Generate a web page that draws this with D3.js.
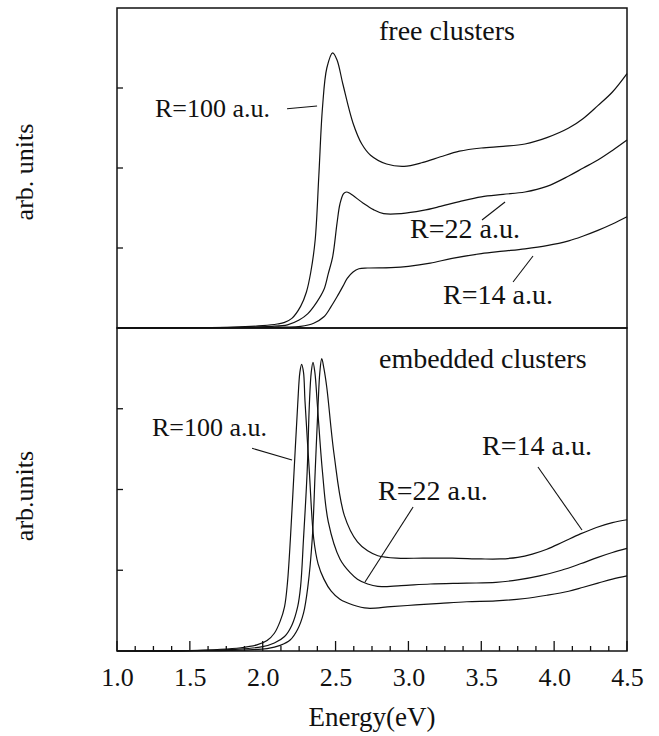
<!DOCTYPE html>
<html lang="en">
<head>
  <meta charset="UTF-8">
  <title>Absorption spectra: free and embedded clusters</title>
  <script src="https://d3js.org/d3.v7.min.js"></script>
  <style>
    body {
      margin: 0;
      background: #fff;
    }
    svg text {
      font-family: 'Liberation Serif', 'Times New Roman', serif;
      fill: #111;
    }
  </style>
</head>
<body>
  <script>
    // Energy axis
    const xTicks = [1.0, 1.5, 2.0, 2.5, 3.0, 3.5, 4.0, 4.5];
    const yTicks = [1, 2, 3];

    // free clusters, [energy eV, arb. units]
    const freeR100 = [[1.0, 0], [1.5, 0.003], [1.8, 0.01], [2.0, 0.03], [2.1, 0.05], [2.15, 0.07], [2.2, 0.12],
      [2.26, 0.27], [2.3, 0.45], [2.33, 0.7], [2.36, 1.1], [2.385, 1.9], [2.41, 2.75], [2.44, 3.25], [2.48, 3.44],
      [2.51, 3.35], [2.55, 3.05], [2.62, 2.56], [2.68, 2.3], [2.74, 2.16], [2.85, 2.05], [2.97, 2.02], [3.1, 2.07],
      [3.22, 2.14], [3.35, 2.21], [3.5, 2.25], [3.65, 2.27], [3.8, 2.3], [3.95, 2.38], [4.1, 2.5], [4.2, 2.62],
      [4.3, 2.78], [4.4, 2.95], [4.5, 3.18]];
    const freeR22 = [[1.0, 0], [1.6, 0.003], [1.9, 0.01], [2.05, 0.02], [2.17, 0.04], [2.25, 0.1], [2.31, 0.18],
      [2.37, 0.32], [2.42, 0.48], [2.45, 0.68], [2.48, 0.89], [2.51, 1.31], [2.53, 1.55], [2.555, 1.68], [2.575, 1.7],
      [2.6, 1.68], [2.69, 1.56], [2.76, 1.48], [2.83, 1.43], [2.95, 1.43], [3.1, 1.47], [3.22, 1.52], [3.35, 1.58],
      [3.5, 1.64], [3.65, 1.67], [3.8, 1.7], [3.95, 1.77], [4.1, 1.9], [4.2, 2.0], [4.3, 2.1], [4.4, 2.22], [4.5, 2.35]];
    const freeR14 = [[1.0, 0], [1.7, 0.003], [2.0, 0.008], [2.15, 0.01], [2.26, 0.02], [2.35, 0.06], [2.42, 0.14],
      [2.47, 0.27], [2.51, 0.39], [2.55, 0.52], [2.58, 0.62], [2.62, 0.7], [2.66, 0.74], [2.72, 0.75], [2.88, 0.755],
      [3.0, 0.77], [3.15, 0.81], [3.3, 0.87], [3.5, 0.93], [3.65, 0.96], [3.8, 0.99], [3.95, 1.03], [4.1, 1.09],
      [4.2, 1.15], [4.3, 1.22], [4.4, 1.3], [4.5, 1.39]];

    // embedded clusters
    const embR100 = [[1.0, 0], [1.5, 0.005], [1.85, 0.04], [1.96, 0.075], [2.03, 0.13], [2.08, 0.22], [2.12, 0.37],
      [2.15, 0.55], [2.17, 0.85], [2.19, 1.39], [2.215, 2.22], [2.24, 3.05], [2.255, 3.45], [2.267, 3.55], [2.28, 3.45],
      [2.29, 3.1], [2.32, 2.22], [2.35, 1.39], [2.38, 1.08], [2.42, 0.89], [2.47, 0.74], [2.53, 0.64], [2.62, 0.57],
      [2.72, 0.53], [2.88, 0.55], [3.05, 0.57], [3.22, 0.59], [3.4, 0.61], [3.6, 0.62], [3.8, 0.65], [3.95, 0.69],
      [4.1, 0.74], [4.2, 0.79], [4.3, 0.84], [4.4, 0.89], [4.5, 0.93]];
    const embR22 = [[1.0, 0], [1.5, 0.004], [1.8, 0.02], [1.99, 0.05], [2.08, 0.1], [2.15, 0.18], [2.2, 0.32],
      [2.24, 0.55], [2.26, 0.8], [2.28, 1.39], [2.305, 2.22], [2.32, 3.05], [2.333, 3.45], [2.345, 3.575], [2.358, 3.45],
      [2.375, 3.05], [2.41, 2.22], [2.45, 1.6], [2.53, 1.14], [2.6, 0.97], [2.65, 0.89], [2.72, 0.83], [2.79, 0.8],
      [2.95, 0.81], [3.15, 0.83], [3.4, 0.84], [3.6, 0.85], [3.75, 0.88], [3.9, 0.93], [4.05, 1.0], [4.18, 1.08],
      [4.3, 1.16], [4.4, 1.22], [4.5, 1.27]];
    const embR14 = [[1.0, 0], [1.6, 0.004], [1.9, 0.015], [2.03, 0.03], [2.12, 0.07], [2.19, 0.14], [2.24, 0.27],
      [2.28, 0.47], [2.31, 0.8], [2.34, 1.39], [2.36, 2.22], [2.38, 3.05], [2.392, 3.45], [2.405, 3.62], [2.42, 3.5],
      [2.44, 3.26], [2.49, 2.43], [2.56, 1.68], [2.65, 1.35], [2.72, 1.24], [2.79, 1.18], [2.92, 1.15], [3.1, 1.15],
      [3.3, 1.15], [3.5, 1.14], [3.63, 1.14], [3.75, 1.16], [3.85, 1.2], [3.95, 1.26], [4.06, 1.35], [4.18, 1.45],
      [4.29, 1.53], [4.4, 1.59], [4.5, 1.625]];

    // annotations: text at [E, v], leader from [E, v] to [E, v]
    const freeNotes = [
      { text: "R=100 a.u.", size: 26, at: [1.261, 2.64], line: [[2.167, 2.74], [2.373, 2.775]] },
      { text: "R=22 a.u.", size: 28, at: [3.011, 1.125], line: [[3.505, 1.35], [3.663, 1.575]] },
      { text: "R=14 a.u.", size: 28, at: [3.238, 0.3], line: [[3.718, 0.575], [3.855, 0.9]] }
    ];
    const embNotes = [
      { text: "R=100 a.u.", size: 26, at: [1.24, 2.66], line: [[1.927, 2.51], [2.201, 2.365]] },
      { text: "R=22 a.u.", size: 28, at: [2.791, 1.87], line: [[3.032, 1.783], [2.702, 0.854]] },
      { text: "R=14 a.u.", size: 28, at: [3.505, 2.427], line: [[3.889, 2.279], [4.191, 1.498]] }
    ];

    const W = 659, H = 736;
    const pLeft = 117, pRight = 627, pTop = 8, pMid = 328, pBottom = 651;

    const svg = d3.select("body").append("svg")
      .attr("width", W)
      .attr("height", H);

    const x = d3.scaleLinear().domain([1.0, 4.5]).range([pLeft, pRight]);
    const yTop = d3.scaleLinear().domain([0, 4]).range([pMid, pTop]);
    const yBot = d3.scaleLinear().domain([0, 4]).range([pBottom, pMid]);

    function panel(y, curves, notes, title, titleAt) {
      const g = svg.append("g");

      // curves
      const line = d3.line().x(d => x(d[0])).y(d => y(d[1])).curve(d3.curveCatmullRom.alpha(0.5));
      curves.forEach(c => {
        g.append("path")
          .datum(c)
          .attr("fill", "none")
          .attr("stroke", "#111")
          .attr("stroke-width", 1.2)
          .attr("d", line);
      });

      // y ticks (inside, no labels)
      g.selectAll(".ytick")
        .data(yTicks)
        .join("line")
        .attr("class", "ytick")
        .attr("x1", pLeft).attr("x2", pLeft + 6)
        .attr("y1", d => y(d)).attr("y2", d => y(d))
        .attr("stroke", "#111")
        .attr("stroke-width", 1.3);

      // frame
      g.append("rect")
        .attr("x", pLeft).attr("y", y(4))
        .attr("width", pRight - pLeft).attr("height", y(0) - y(4))
        .attr("fill", "none")
        .attr("stroke", "#111")
        .attr("stroke-width", 1.5);

      g.append("text")
        .attr("x", x(titleAt[0])).attr("y", y(titleAt[1]))
        .style("font-size", "28px")
        .text(title);

      notes.forEach(n => {
        g.append("text")
          .attr("x", x(n.at[0])).attr("y", y(n.at[1]))
          .style("font-size", n.size + "px")
          .text(n.text);
        g.append("line")
          .attr("x1", x(n.line[0][0])).attr("y1", y(n.line[0][1]))
          .attr("x2", x(n.line[1][0])).attr("y2", y(n.line[1][1]))
          .attr("stroke", "#111")
          .attr("stroke-width", 1.1);
      });
    }

    panel(yTop, [freeR100, freeR22, freeR14], freeNotes, "free clusters", [2.798, 3.6]);
    panel(yBot, [embR100, embR22, embR14], embNotes, "embedded clusters", [2.798, 3.505]);

    // x ticks pointing up into the lower panel (3 minor ticks between labels)
    const allTicks = d3.range(0, 29).map(i => 1.0 + i * 0.125);
    const isMajor = v => xTicks.some(t => Math.abs(t - v) < 1e-6);
    svg.append("g")
      .selectAll("line")
      .data(allTicks)
      .join("line")
      .attr("x1", d => x(d)).attr("x2", d => x(d))
      .attr("y1", pBottom)
      .attr("y2", d => pBottom - (isMajor(d) ? 10 : 5))
      .attr("stroke", "#111")
      .attr("stroke-width", 1.3);

    const xAxis = svg.append("g")
      .attr("transform", `translate(0,${pBottom})`)
      .call(d3.axisBottom(x).tickValues(xTicks).tickSize(0).tickFormat(d3.format(".1f")));
    xAxis.select(".domain").remove();
    xAxis.selectAll("text")
      .attr("y", 35)
      .attr("dy", null)
      .style("font-size", "26px")
      .style("font-family", "'Liberation Serif', 'Times New Roman', serif")
      .attr("fill", "#111");

    svg.append("text")
      .attr("x", x(2.75)).attr("y", 726)
      .attr("text-anchor", "middle")
      .style("font-size", "27px")
      .text("Energy(eV)");

    svg.append("text")
      .attr("transform", `translate(33,172) rotate(-90)`)
      .attr("text-anchor", "middle")
      .style("font-size", "26px")
      .text("arb. units");

    svg.append("text")
      .attr("transform", `translate(33,496) rotate(-90)`)
      .attr("text-anchor", "middle")
      .style("font-size", "26px")
      .text("arb.units");
  </script>
</body>
</html>
